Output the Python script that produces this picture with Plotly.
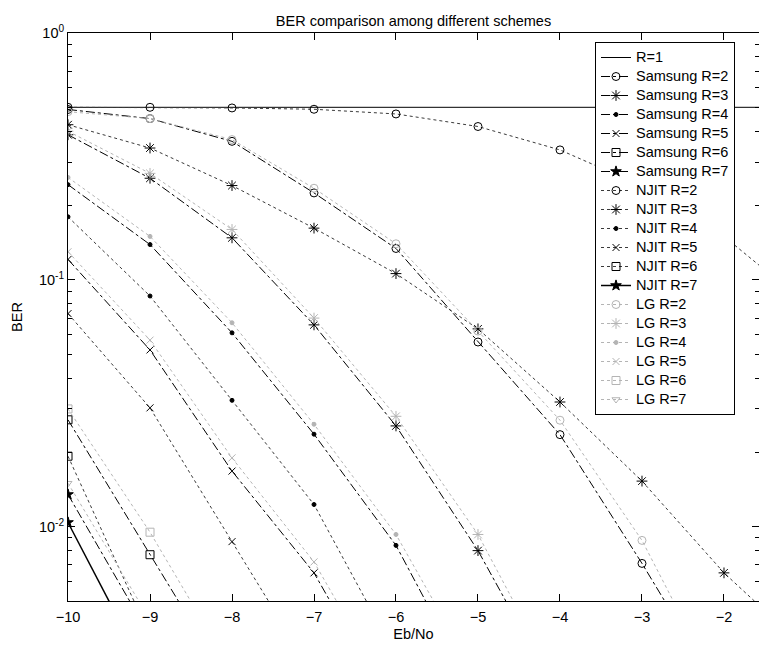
import math
import plotly.graph_objects as go

# ---------------- data ----------------
ebno = [-10, -9, -8, -7, -6, -5, -4, -3, -2, -1]

r1_ber = [0.5, 0.5, 0.5, 0.5, 0.5, 0.5, 0.5, 0.5, 0.5, 0.5]

samsung_r2 = [0.49, 0.45, 0.364, 0.225, 0.134, 0.056, 0.0236, 0.0071, 0.0020]
samsung_r3 = [0.387, 0.258, 0.148, 0.0657, 0.0256, 0.0080, 0.0020]
samsung_r4 = [0.243, 0.139, 0.061, 0.0237, 0.0084, 0.0020]
samsung_r5 = [0.121, 0.052, 0.0168, 0.0065, 0.0017]
samsung_r6 = [0.0271, 0.0077, 0.0022]
samsung_r7 = [0.0135, 0.0036]

njit_r2 = [0.5, 0.5, 0.497, 0.491, 0.47, 0.418, 0.336, 0.24, 0.15, 0.08]
njit_r3 = [0.425, 0.342, 0.241, 0.162, 0.106, 0.0633, 0.032, 0.0153, 0.0065, 0.0032]
njit_r4 = [0.18, 0.086, 0.0325, 0.0123, 0.0030]
njit_r5 = [0.073, 0.0303, 0.0087, 0.0025]
njit_r6 = [0.0193, 0.0036]
njit_r7 = [0.0104, 0.0024]

lg_r2 = [0.48, 0.45, 0.37, 0.235, 0.14, 0.062, 0.027, 0.0088, 0.0020]
lg_r3 = [0.40, 0.27, 0.16, 0.070, 0.028, 0.0093, 0.0022]
lg_r4 = [0.26, 0.15, 0.067, 0.026, 0.0093, 0.0024]
lg_r5 = [0.13, 0.057, 0.019, 0.0072, 0.0019]
lg_r6 = [0.030, 0.0095, 0.0026]
lg_r7 = [0.015, 0.0042]

x_ticks = [-10, -9, -8, -7, -6, -5, -4, -3, -2]
y_ticks = [1, 0.1, 0.01]
y_ticktext = ["10<sup>0</sup>", "10<sup>-1</sup>", "10<sup>-2</sup>"]

title_text = "BER comparison among different schemes"
x_title = "Eb/No"
y_title = "BER"

# ---------------- styles ----------------
BLACK = "black"
DOTLINE = "#3a3a3a"
GRAY = "#b4b4b4"

series = [
    ("R=1", r1_ber, BLACK, BLACK, "solid", None, 1.0),
    ("Samsung R=2", samsung_r2, BLACK, BLACK, "dashdot", "circle-open", 1.0),
    ("Samsung R=3", samsung_r3, BLACK, BLACK, "dashdot", "asterisk-open", 1.0),
    ("Samsung R=4", samsung_r4, BLACK, BLACK, "dashdot", "circle", 1.0),
    ("Samsung R=5", samsung_r5, BLACK, BLACK, "dashdot", "x-thin-open", 1.0),
    ("Samsung R=6", samsung_r6, BLACK, BLACK, "dashdot", "square-open", 1.0),
    ("Samsung R=7", samsung_r7, BLACK, BLACK, "dashdot", "star", 1.0),
    ("NJIT R=2", njit_r2, DOTLINE, BLACK, "dot", "circle-open", 1.0),
    ("NJIT R=3", njit_r3, DOTLINE, BLACK, "dot", "asterisk-open", 1.0),
    ("NJIT R=4", njit_r4, DOTLINE, BLACK, "dot", "circle", 1.0),
    ("NJIT R=5", njit_r5, DOTLINE, BLACK, "dot", "x-thin-open", 1.0),
    ("NJIT R=6", njit_r6, DOTLINE, BLACK, "dot", "square-open", 1.0),
    ("NJIT R=7", njit_r7, BLACK, BLACK, "solid", "star", 1.5),
    ("LG R=2", lg_r2, GRAY, GRAY, "dot", "circle-open", 1.0),
    ("LG R=3", lg_r3, GRAY, GRAY, "dot", "asterisk-open", 1.0),
    ("LG R=4", lg_r4, GRAY, GRAY, "dot", "circle", 1.0),
    ("LG R=5", lg_r5, GRAY, GRAY, "dot", "x-thin-open", 1.0),
    ("LG R=6", lg_r6, GRAY, GRAY, "dot", "square-open", 1.0),
    ("LG R=7", lg_r7, GRAY, GRAY, "dot", "triangle-down-open", 1.0),
]

marker_sizes = {
    "circle-open": 8,
    "asterisk-open": 9,
    "circle": 4,
    "x-thin-open": 7,
    "square-open": 8,
    "star": 8,
    "triangle-down-open": 7,
}

LEGEND_TEXT_PX = 14.5

fig = go.Figure()
for name, vals, lcolor, mcolor, dash, symbol, lw in series:
    xs = ebno[: len(vals)]
    label = f"<span style='font-size:{LEGEND_TEXT_PX}px'>{name}</span>"
    if symbol is None:
        fig.add_trace(go.Scatter(
            x=xs, y=vals, name=label, mode="lines",
            line=dict(color=lcolor, width=lw, dash=dash),
        ))
    else:
        fig.add_trace(go.Scatter(
            x=xs, y=vals, name=label, mode="lines+markers",
            line=dict(color=lcolor, width=lw, dash=dash),
            marker=dict(symbol=symbol, size=marker_sizes[symbol], color=mcolor,
                        line=dict(color=mcolor, width=1)),
        ))

W, H = 759, 649
ML, MR, MT, MB = 68, 0, 33, 48

fig.update_layout(
    width=W, height=H,
    margin=dict(l=ML, r=MR, t=MT, b=MB, autoexpand=False),
    paper_bgcolor="white", plot_bgcolor="white",
    font=dict(family="Arial", size=14, color="black"),
    title=dict(text=title_text, x=0.5, xref="paper", xanchor="center",
               y=1 - 21 / H, yref="container", yanchor="middle",
               font=dict(size=14.5, color="black")),
    legend=dict(x=(595 - ML) / (W - ML - MR), y=1 - 9 / (H - MT - MB),
                xanchor="left", yanchor="top",
                bgcolor="white", bordercolor="black", borderwidth=1,
                font=dict(size=12, color="black"), itemwidth=30,
                tracegroupgap=0),
    showlegend=True,
)

fig.update_xaxes(
    range=[-10, -1.573], tickmode="array", tickvals=x_ticks,
    ticks="inside", ticklen=7, tickcolor="black", tickwidth=1,
    showline=True, linecolor="black", linewidth=1, mirror="ticks",
    showgrid=False, zeroline=False,
    tickfont=dict(size=14.5), ticklabelstandoff=3,
    title=dict(text=x_title, standoff=4, font=dict(size=14.5)),
    automargin=False,
)

minor_vals = []
for dec in [1, 0.1, 0.01, 0.001]:
    for k in range(2, 10):
        minor_vals.append(k * dec / 10)

fig.update_yaxes(
    type="log", range=[math.log10(0.005), 0],
    tickmode="array", tickvals=y_ticks, ticktext=y_ticktext,
    ticks="inside", ticklen=7, tickcolor="black", tickwidth=1,
    minor=dict(tickmode="array", tickvals=minor_vals, ticks="inside", ticklen=4,
               tickcolor="black", tickwidth=1, showgrid=False),
    showline=True, linecolor="black", linewidth=1, mirror="ticks",
    showgrid=False, zeroline=False,
    tickfont=dict(size=14.5),
    title=dict(text=y_title, standoff=12, font=dict(size=14.5)),
    automargin=False,
)

fig.write_html("out.html")
